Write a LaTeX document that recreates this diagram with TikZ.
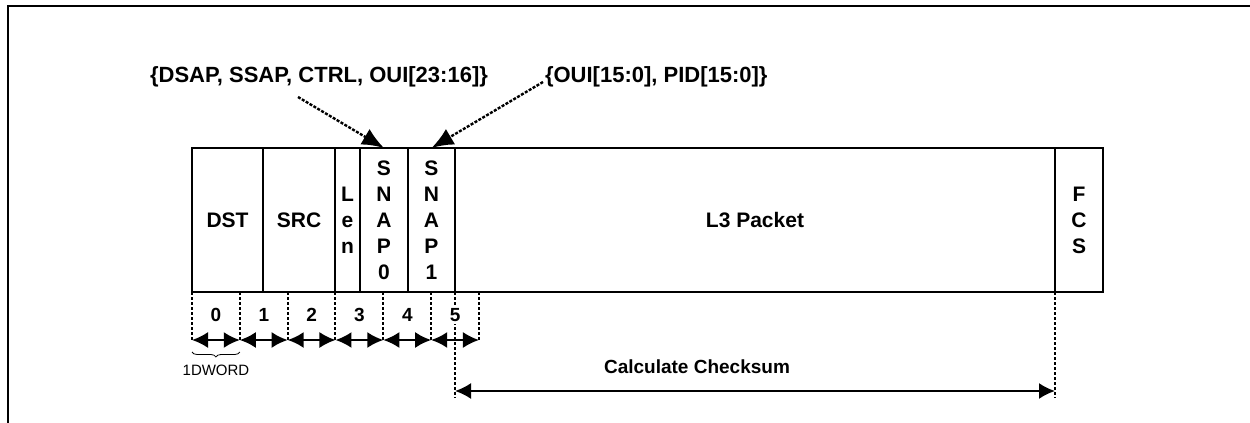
\documentclass[tikz,border=0pt]{standalone}
\usepackage{fontspec}
\setmainfont{Liberation Sans}
\usetikzlibrary{arrows.meta,positioning,calc,decorations.pathreplacing}

\begin{document}
\begin{tikzpicture}[x=0.5pt,y=-0.5pt,
  field/.style={draw,line width=1pt,minimum height=72pt,inner sep=0pt,outer sep=0pt,align=center,font=\fontsize{10.5}{13}\selectfont\bfseries},
  tick/.style={line width=1pt,dash pattern=on 1.5pt off 1pt},
  span/.style={line width=1pt,{Latex[length=8pt,width=8pt]}-{Latex[length=8pt,width=8pt]}},
  pointer/.style={line width=1.2pt,dash pattern=on 1.5pt off 0.75pt,-{Latex[length=11pt,width=9pt]}},
  num/.style={font=\fontsize{9.5}{10}\selectfont\bfseries,fill=white,inner sep=1pt},
  lbl/.style={font=\fontsize{11}{12}\selectfont\bfseries}]

\useasboundingbox (0,0) rectangle (1250,423);

%frame
\draw[line width=1.4pt] (8,423)--(8,6)--(1250,6);

%fields
\node[field,minimum width=35.5pt,anchor=north west] (dst) at (192,148) {DST};
\node[field,minimum width=36pt,right=0pt of dst] (src) {SRC};
\node[field,minimum width=12.5pt,right=0pt of src] (len) {L\\e\\n};
\node[field,minimum width=24pt,right=0pt of len] (snap0) {S\\N\\A\\P\\0};
\node[field,minimum width=23.5pt,right=0pt of snap0] (snap1) {S\\N\\A\\P\\1};
\node[field,minimum width=300pt,right=0pt of snap1] (l3) {L3 Packet};
\node[field,minimum width=24pt,right=0pt of l3] (fcs) {F\\C\\S};

%dword marks
\foreach \i in {0,...,6}{
  \coordinate (t\i) at ({192+47.83*\i},292);
  \coordinate (b\i) at ({192+47.83*\i},340);
  \draw[tick] (t\i)--(b\i);
}
\foreach \i [evaluate=\i as \j using int(\i+1)] in {0,...,5}
  \draw[span] (b\i)--(b\j);

%checksum range
\path (l3.south west) ++(0,106) coordinate (c0);
\path (l3.south east) ++(0,106) coordinate (c1);
\path (l3.south west) ++(0,99) coordinate (a0);
\path (l3.south east) ++(0,99) coordinate (a1);
\draw[tick] (l3.south west)--(c0); \draw[tick] (l3.south east)--(c1);
\draw[span] (a0)--(a1);
\node[lbl,font=\fontsize{9.5}{12}\selectfont\bfseries] (ck) at (697,367) {Calculate Checksum};

\foreach \i in {0,...,5}
  \node[num] (n\i) at ({216+47.83*\i},315) {\i};

\draw[decorate,decoration={brace,mirror,amplitude=2.5pt},line width=0.4pt] ($(b0)+(0,12)$)--($(b1)+(0,12)$);
\node[font=\fontsize{7.5}{8}\selectfont] (dw) at (216,370) {1DWORD};

%snap contents
\node[lbl] (oui0) at (319,77) {\{DSAP, SSAP, CTRL, OUI[23:16]\}};
\node[lbl,anchor=west] (oui1) at (538,77) {\{OUI[15:0], PID[15:0]\}};
\coordinate (p0) at (298,97);
\coordinate (p1) at (543,82);
\draw[pointer] (p0)--(snap0.north);
\draw[pointer] (p1)--(snap1.north);

\end{tikzpicture}
\end{document}
